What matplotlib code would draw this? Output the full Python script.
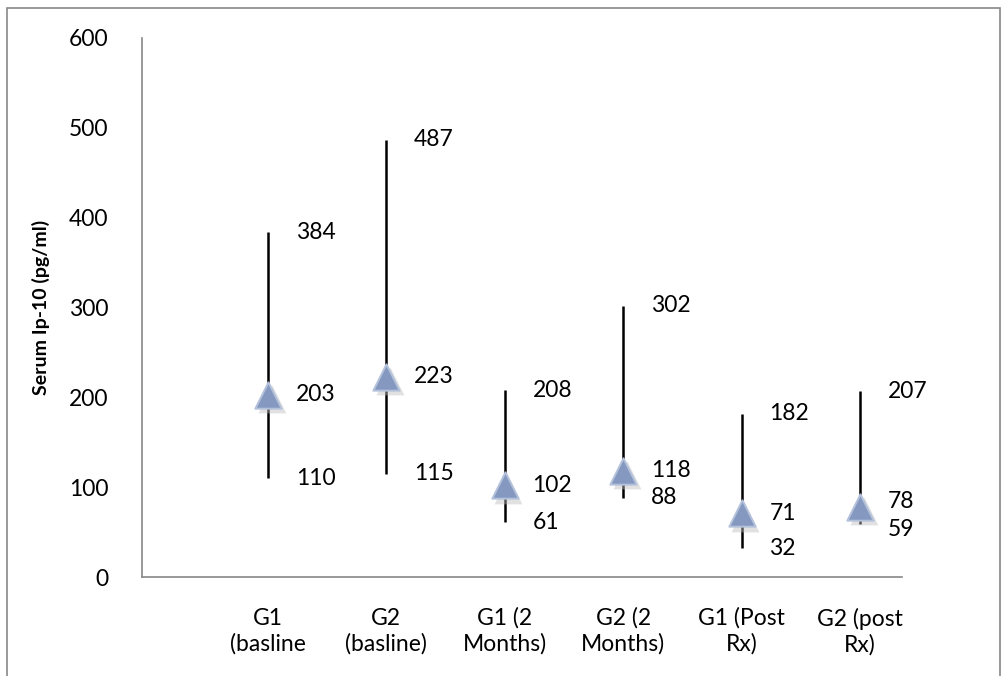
import numpy as np
import matplotlib.pyplot as plt
from matplotlib.patches import Rectangle

plt.rcParams['font.family'] = ['Lato', 'DejaVu Sans']

groups = ['G1\n(basline', 'G2\n(basline)', 'G1 (2\nMonths)', 'G2 (2\nMonths)',
          'G1 (Post\nRx)', 'G2 (post\nRx)']
high = [384, 487, 208, 302, 182, 207]
low = [110, 115, 61, 88, 32, 59]
mean = [203, 223, 102, 118, 71, 78]

fs = 16.5

fig = plt.figure(figsize=(10.08, 6.76), dpi=100)
ax = fig.add_axes([142 / 1008, 1 - 577 / 676, 760 / 1008, 539 / 676])

x = np.arange(len(groups))
ax.vlines(x, low, high, color='black', lw=1.8, zorder=2)
# soft shadow under the markers
ax.scatter(x + 0.03, np.array(mean) - 5, marker='^', s=400, color='#bdbdbd',
           alpha=0.45, linewidths=0, zorder=3)
ax.scatter(x, mean, marker='^', s=360, color='#8598c0', edgecolors='#b4c1da',
           linewidths=1.4, zorder=4)

dx = 0.235
for i in range(len(groups)):
    # keep close labels (mean vs low) from running into each other
    nudge = 4 if mean[i] - low[i] < 25 else 0
    ax.text(x[i] + dx, high[i], str(high[i]), va='center', ha='left', fontsize=fs)
    ax.annotate(str(low[i]), (x[i] + dx, low[i]), xytext=(0, -nudge),
                textcoords='offset points', va='center', ha='left', fontsize=fs)
    ax.annotate(str(mean[i]), (x[i] + dx, mean[i]), xytext=(0, nudge),
                textcoords='offset points', va='center', ha='left', fontsize=fs)

ax.set_xlim(-1.064, 5.355)
ax.set_ylim(0, 600)
ax.set_yticks(range(0, 601, 100))
ax.set_xticks(x)
ax.set_xticklabels(groups, fontsize=fs, linespacing=1.25)
ax.tick_params(axis='both', length=0, labelsize=fs)
ax.tick_params(axis='y', pad=24)
ax.tick_params(axis='x', pad=22)
for s in ['top', 'right']:
    ax.spines[s].set_visible(False)
for s in ['left', 'bottom']:
    ax.spines[s].set_color('#888888')
    ax.spines[s].set_linewidth(1.2)
ax.set_ylabel('Serum Ip-10 (pg/ml)', fontsize=14, fontweight='bold', labelpad=14)

fig.patches.append(Rectangle((7 / 1008, -0.05), 993 / 1008, 1.05 - 8 / 676,
                             transform=fig.transFigure, fill=False,
                             edgecolor='#888888', lw=1.2))

fig.savefig('out.png', dpi=100)
